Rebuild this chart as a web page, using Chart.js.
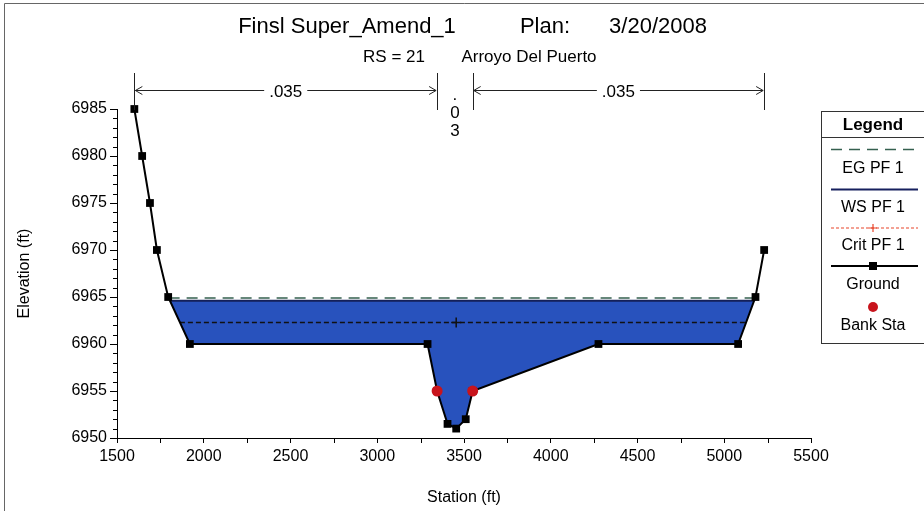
<!DOCTYPE html>
<html>
<head>
<meta charset="utf-8">
<script src="https://cdn.jsdelivr.net/npm/chart.js@4.4.0/dist/chart.umd.min.js"></script>
<style>
html, body { margin: 0; padding: 0; background: #fff; }
#wrap { position: relative; width: 924px; height: 511px; }
</style>
</head>
<body>
<div id="wrap"><canvas id="secaoTransversal"></canvas></div>
<script>
// dados da secao
var groundStation = [1600, 1645, 1690, 1730, 1795, 1920, 3290, 3345, 3405, 3455, 3510, 3550, 4275, 5080, 5180, 5230];
var groundElev = [6985, 6980, 6975, 6970, 6965, 6960, 6960, 6955, 6951.5, 6951, 6952, 6955, 6960, 6960, 6965, 6970];
var bankStation = [3345, 3550];
var bankElev = [6955, 6955];
var egElev = 6964.9;
var wsElev = 6964.6;
var critElev = 6962.3;
var critStation = 3455;
var nValues = ['.035', '.03', '.035'];
var nLimits = [1600, 3345, 3550, 5230];
var xRange = [1500, 5500];
var yRange = [6950, 6985];
var titleParts = ['Finsl Super_Amend_1', 'Plan:', '3/20/2008'];
var subtitleParts = ['RS = 21', 'Arroyo Del Puerto'];
var legendLabels = ['EG PF 1', 'WS PF 1', 'Crit PF 1', 'Ground', 'Bank Sta'];

var FONT = '"Liberation Sans", Arial, sans-serif';

// acha onde o terreno cruza uma cota (margem esquerda e direita)
function crossing(elev) {
	var left = null, right = null;
	for (var i = 0; i < groundStation.length - 1; i++) {
		var y0 = groundElev[i], y1 = groundElev[i + 1];
		if (left === null && y0 >= elev && y1 < elev) {
			left = groundStation[i] + (y0 - elev) / (y0 - y1) * (groundStation[i + 1] - groundStation[i]);
		}
		if (y0 < elev && y1 >= elev) {
			right = groundStation[i] + (elev - y0) / (y1 - y0) * (groundStation[i + 1] - groundStation[i]);
		}
	}
	return [left, right];
}

var groundData = groundStation.map(function (s, i) { return { x: s, y: groundElev[i] }; });
var bankData = bankStation.map(function (s, i) { return { x: s, y: bankElev[i] }; });
var wsX = crossing(wsElev);
var egX = crossing(egElev);
var critX = crossing(critElev);
var wsData = [{ x: wsX[0], y: wsElev }, { x: wsX[1], y: wsElev }];
var egData = [{ x: egX[0], y: egElev }, { x: egX[1], y: egElev }];
var critData = [{ x: critX[0], y: critElev }, { x: critStation, y: critElev }, { x: critX[1], y: critElev }];

var decoracao = {
	id: 'decoracao',
	afterDraw: function (chart) {
		var ctx = chart.ctx;
		var xs = chart.scales.x, ys = chart.scales.y;
		var area = chart.chartArea;
		ctx.save();

		// moldura
		ctx.strokeStyle = '#666';
		ctx.lineWidth = 1;
		ctx.beginPath();
		ctx.moveTo(4.5, 511); ctx.lineTo(4.5, 3.5); ctx.lineTo(924, 3.5);
		ctx.stroke();

		// titulos
		ctx.fillStyle = '#000';
		ctx.textAlign = 'center';
		ctx.textBaseline = 'middle';
		ctx.font = '22px ' + FONT;
		ctx.fillText(titleParts[0], 347, 27);
		ctx.fillText(titleParts[1], 545, 27);
		ctx.fillText(titleParts[2], 658, 27);
		ctx.font = '17px ' + FONT;
		ctx.fillText(subtitleParts[0], 394, 57);
		ctx.fillText(subtitleParts[1], 529, 57);

		// ticks menores
		ctx.strokeStyle = '#000';
		ctx.beginPath();
		for (var v = yRange[0]; v <= yRange[1]; v++) {
			if (v % 5 === 0) continue;
			var py = Math.round(ys.getPixelForValue(v)) + 0.5;
			ctx.moveTo(area.left - 4, py); ctx.lineTo(area.left, py);
		}
		for (var s = xRange[0] + 250; s < xRange[1]; s += 500) {
			var px = Math.round(xs.getPixelForValue(s)) + 0.5;
			ctx.moveTo(px, area.bottom); ctx.lineTo(px, area.bottom + 5);
		}
		ctx.stroke();

		// valores de n de Manning
		var yArrow = 90.5;
		ctx.strokeStyle = '#222';
		ctx.beginPath();
		nLimits.forEach(function (s) {
			var px = Math.round(xs.getPixelForValue(s)) + 0.5;
			ctx.moveTo(px, 73); ctx.lineTo(px, 110);
		});
		ctx.stroke();
		ctx.font = '17px ' + FONT;
		ctx.fillStyle = '#000';
		for (var k = 0; k < nValues.length; k++) {
			var a = xs.getPixelForValue(nLimits[k]) + 1;
			var b = xs.getPixelForValue(nLimits[k + 1]) - 1;
			var mid = (a + b) / 2;
			var w = ctx.measureText(nValues[k]).width;
			if (b - a > w + 40) {
				ctx.beginPath();
				ctx.moveTo(a, yArrow); ctx.lineTo(mid - w / 2 - 5, yArrow);
				ctx.moveTo(mid + w / 2 + 5, yArrow); ctx.lineTo(b, yArrow);
				ctx.moveTo(a + 7, yArrow - 4); ctx.lineTo(a, yArrow); ctx.lineTo(a + 7, yArrow + 4);
				ctx.moveTo(b - 7, yArrow - 4); ctx.lineTo(b, yArrow); ctx.lineTo(b - 7, yArrow + 4);
				ctx.stroke();
				ctx.fillText(nValues[k], mid, yArrow + 2);
			} else {
				// texto vertical quando nao cabe
				var chars = nValues[k].split('');
				chars.forEach(function (c, j) {
					ctx.fillText(c, mid, 95 + j * 18);
				});
			}
		}

		// legenda
		var lx = 821.5, ly = 111.5, cx = 873;
		ctx.strokeStyle = '#333';
		ctx.lineWidth = 1;
		ctx.strokeRect(lx, ly, 130, 232);
		ctx.beginPath();
		ctx.moveTo(lx, 137.5); ctx.lineTo(924, 137.5);
		ctx.stroke();
		ctx.font = 'bold 17px ' + FONT;
		ctx.fillText('Legend', cx, 125);
		ctx.font = '16px ' + FONT;
		var x0 = 831, x1 = 918;
		// EG
		ctx.strokeStyle = '#35604f'; ctx.lineWidth = 1.5; ctx.setLineDash([11, 7]);
		ctx.beginPath(); ctx.moveTo(x0, 149.5); ctx.lineTo(x1, 149.5); ctx.stroke();
		ctx.fillText(legendLabels[0], cx, 169);
		// WS
		ctx.setLineDash([]);
		ctx.strokeStyle = '#16205e'; ctx.lineWidth = 2;
		ctx.beginPath(); ctx.moveTo(x0, 189.5); ctx.lineTo(x1, 189.5); ctx.stroke();
		ctx.fillText(legendLabels[1], cx, 208);
		// Crit
		ctx.strokeStyle = '#e8452a'; ctx.lineWidth = 1.2; ctx.setLineDash([3, 2]);
		ctx.beginPath(); ctx.moveTo(x0, 228); ctx.lineTo(x1, 228); ctx.stroke();
		ctx.setLineDash([]);
		ctx.beginPath(); ctx.moveTo(cx, 224); ctx.lineTo(cx, 232); ctx.moveTo(cx - 4, 228); ctx.lineTo(cx + 4, 228); ctx.stroke();
		ctx.fillText(legendLabels[2], cx, 246);
		// Ground
		ctx.strokeStyle = '#000'; ctx.lineWidth = 2;
		ctx.beginPath(); ctx.moveTo(x0, 266); ctx.lineTo(x1, 266); ctx.stroke();
		ctx.fillStyle = '#000'; ctx.fillRect(cx - 4, 262, 8, 8);
		ctx.fillText(legendLabels[3], cx, 285);
		// Bank
		ctx.fillStyle = '#c8141c';
		ctx.beginPath(); ctx.arc(cx, 307, 5, 0, Math.PI * 2); ctx.fill();
		ctx.fillStyle = '#000';
		ctx.fillText(legendLabels[4], cx, 326);

		ctx.restore();
	}
};

function plainTick(value) {
	return String(value);
}

var config = {
	type: 'scatter',
	data: {
		datasets: [
			{
				label: 'Ground',
				data: groundData,
				showLine: true,
				borderColor: '#000',
				borderWidth: 2,
				backgroundColor: '#000',
				pointStyle: 'rect',
				pointRadius: 5.5,
				pointBorderWidth: 0,
				clip: false,
				order: 1
			},
			{
				label: 'Bank Sta',
				data: bankData,
				showLine: false,
				backgroundColor: '#c8141c',
				borderColor: '#c8141c',
				pointRadius: 5.5,
				pointBorderWidth: 0,
				clip: false,
				order: 0
			},
			{
				label: 'WS PF 1',
				data: wsData,
				showLine: true,
				borderColor: '#14205a',
				borderWidth: 2,
				pointRadius: 0,
				backgroundColor: '#2852bd',
				fill: { target: 0 },
				order: 4
			},
			{
				label: 'EG PF 1',
				data: egData,
				showLine: true,
				borderColor: '#35604f',
				borderWidth: 1.5,
				borderDash: [11, 7],
				pointRadius: 0,
				order: 3
			},
			{
				label: 'Crit PF 1',
				data: critData,
				showLine: true,
				borderColor: '#111',
				borderWidth: 1.5,
				borderDash: [5, 3],
				pointStyle: 'cross',
				pointRadius: function (c) { return c.dataIndex === 1 ? 5 : 0; },
				pointBorderColor: '#111',
				pointBorderWidth: 1.5,
				order: 2
			}
		]
	},
	options: {
		responsive: true,
		maintainAspectRatio: false,
		animation: false,
		layout: {
			padding: { top: 109, right: 113, left: 0, bottom: 0 }
		},
		plugins: {
			legend: { display: false },
			tooltip: { enabled: false },
			title: { display: false }
		},
		scales: {
			x: {
				type: 'linear',
				min: xRange[0],
				max: xRange[1],
				afterFit: function (scale) { scale.height = 73; },
				ticks: {
					stepSize: 500,
					color: '#000',
					font: { family: FONT, size: 16 },
					padding: 4,
					maxRotation: 0,
					callback: plainTick
				},
				grid: { display: true, drawOnChartArea: false, tickLength: 5, color: '#000' },
				border: { display: true, color: '#000', width: 1 },
				title: {
					display: true,
					text: 'Station (ft)',
					color: '#000',
					font: { family: FONT, size: 16 },
					padding: { top: 0, bottom: 4 }
				}
			},
			y: {
				min: yRange[0],
				max: yRange[1],
				afterFit: function (scale) { scale.width = 117; },
				ticks: {
					stepSize: 5,
					color: '#000',
					font: { family: FONT, size: 16 },
					padding: 3,
					callback: plainTick
				},
				grid: { display: true, drawOnChartArea: false, tickLength: 7, color: '#000' },
				border: { display: true, color: '#000', width: 1 },
				title: {
					display: true,
					text: 'Elevation (ft)',
					color: '#000',
					font: { family: FONT, size: 16 },
					padding: { top: 15, bottom: 0 }
				}
			}
		}
	},
	plugins: [decoracao]
};

var ctxSecao = document.getElementById('secaoTransversal').getContext('2d');
window.secaoChart = new Chart(ctxSecao, config);
</script>
</body>
</html>
